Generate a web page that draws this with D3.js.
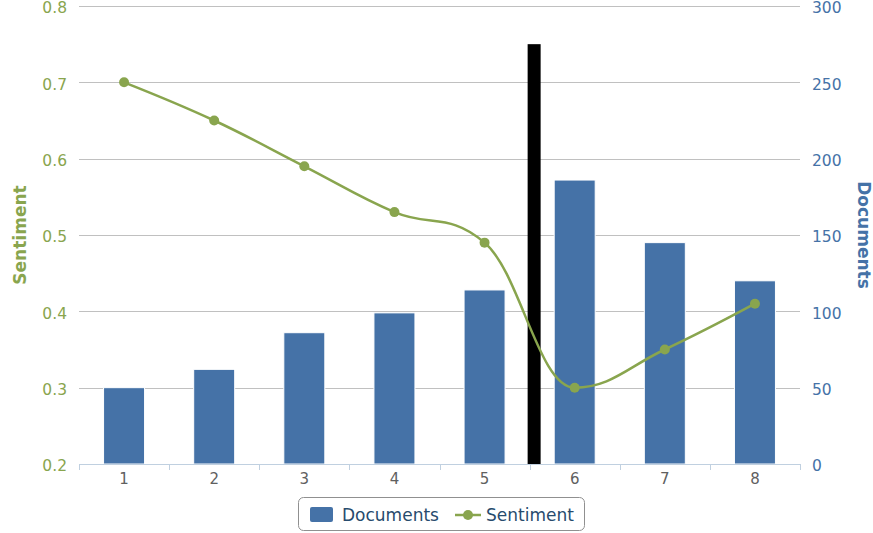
<!DOCTYPE html>
<html><head><meta charset="utf-8">
<script src="https://cdn.jsdelivr.net/npm/d3@7"></script>
<style>
html,body{margin:0;padding:0;background:#fff;}
svg{display:block;font-family:"DejaVu Sans",Verdana,sans-serif;}
</style></head>
<body>
<svg id="chart" width="873" height="533"></svg>
<script>
const categories = ["1","2","3","4","5","6","7","8"];
const documents = [50, 62, 86, 99, 114, 186, 145, 120];
const sentiment = [0.70, 0.65, 0.59, 0.53, 0.49, 0.30, 0.35, 0.41];
const sentimentTicks = [0.2,0.3,0.4,0.5,0.6,0.7,0.8];
const documentTicks = [0,50,100,150,200,250,300];
const eventPosition = 5.55;   // in category units (between 5 and 6)
const eventTop = 275;          // on documents axis

const svg = d3.select("#chart");
const L = 79, R = 800, T = 6, B = 464;
const x = d3.scaleBand().domain(categories).range([L, R]).paddingInner(0).paddingOuter(0);
const xc = d3.scaleLinear().domain([0.5, categories.length + 0.5]).range([L, R]);
const yS = d3.scaleLinear().domain([0.2, 0.8]).range([B, T]);
const yD = d3.scaleLinear().domain([0, 300]).range([B, T]);
const green = "#89A54E", blue = "#4572A7";

// grid
svg.append("g").selectAll("line").data(sentimentTicks.slice(1)).join("line")
  .attr("x1", L).attr("x2", R).attr("y1", d => Math.round(yS(d)) + 0.5).attr("y2", d => Math.round(yS(d)) + 0.5)
  .attr("stroke", "#C0C0C0").attr("stroke-width", 1);

// left axis labels
const left = d3.axisLeft(yS).tickValues(sentimentTicks).tickSize(0).tickPadding(12).tickFormat(d3.format(".1f"));
const gl = svg.append("g").attr("transform", `translate(${L},0)`).call(left);
gl.select(".domain").remove();
gl.selectAll("text").attr("fill", green).attr("font-size", 15.5).attr("font-family", "DejaVu Sans").attr("dy", "0.45em");

// right axis labels
const right = d3.axisRight(yD).tickValues(documentTicks).tickSize(0).tickPadding(12);
const gr = svg.append("g").attr("transform", `translate(${R},0)`).call(right);
gr.select(".domain").remove();
gr.selectAll("text").attr("fill", blue).attr("font-size", 15.5).attr("font-family", "DejaVu Sans").attr("dy", "0.45em");

// bars
const bw = 41;
svg.append("g").selectAll("rect").data(documents).join("rect")
  .attr("x", (d, i) => x(categories[i]) + x.bandwidth() / 2 - bw / 2)
  .attr("y", d => yD(d))
  .attr("width", bw)
  .attr("height", d => B - yD(d))
  .attr("fill", blue).attr("stroke", "#fff").attr("stroke-width", 1);

// event marker bar
svg.append("rect")
  .attr("x", xc(eventPosition) - 6.5).attr("y", yD(eventTop))
  .attr("width", 13).attr("height", B - yD(eventTop))
  .attr("fill", "#000");

// x axis
const bottom = d3.axisBottom(x).tickSize(0).tickPadding(9);
const gb = svg.append("g").attr("transform", `translate(0,${B})`).call(bottom);
gb.select(".domain").remove();
gb.selectAll("text").attr("fill", "#606060").attr("font-size", 15).attr("font-family", "DejaVu Sans");
svg.append("line").attr("x1", L).attr("x2", R).attr("y1", B + 0.5).attr("y2", B + 0.5)
  .attr("stroke", "#C0D0E0").attr("stroke-width", 1);
svg.append("g").selectAll("line").data(d3.range(categories.length + 1)).join("line")
  .attr("x1", d => Math.round(L + d * x.bandwidth()) + 0.5).attr("x2", d => Math.round(L + d * x.bandwidth()) + 0.5)
  .attr("y1", B).attr("y2", B + 6).attr("stroke", "#C0D0E0");

// spline (Highcharts-style)
const pts = sentiment.map((v, i) => ({ x: x(categories[i]) + x.bandwidth() / 2, y: yS(v) }));
const sm = 1.5, den = sm + 1;
pts.forEach((p, i) => {
  const a = pts[i - 1], b = pts[i + 1];
  if (a && b) {
    let lx = (sm * p.x + a.x) / den, ly = (sm * p.y + a.y) / den;
    let rx = (sm * p.x + b.x) / den, ry = (sm * p.y + b.y) / den;
    const corr = ((ry - ly) * (rx - p.x)) / (rx - lx) + p.y - ry;
    ly += corr; ry += corr;
    if (ly > a.y && ly > p.y) { ly = Math.max(a.y, p.y); ry = 2 * p.y - ly; }
    else if (ly < a.y && ly < p.y) { ly = Math.min(a.y, p.y); ry = 2 * p.y - ly; }
    if (ry > b.y && ry > p.y) { ry = Math.max(b.y, p.y); ly = 2 * p.y - ry; }
    else if (ry < b.y && ry < p.y) { ry = Math.min(b.y, p.y); ly = 2 * p.y - ry; }
    p.lx = lx; p.ly = ly; p.rx = rx; p.ry = ry;
  }
});
const path = d3.path();
pts.forEach((p, i) => {
  if (i === 0) { path.moveTo(p.x, p.y); return; }
  const a = pts[i - 1];
  path.bezierCurveTo(a.rx ?? a.x, a.ry ?? a.y, p.lx ?? p.x, p.ly ?? p.y, p.x, p.y);
});
svg.append("path").attr("d", path.toString()).attr("fill", "none")
  .attr("stroke", green).attr("stroke-width", 2.5);
svg.append("g").selectAll("circle").data(pts).join("circle")
  .attr("cx", d => d.x).attr("cy", d => d.y).attr("r", 5).attr("fill", green);

// axis titles
svg.append("text").attr("transform", `translate(26,${(T + B) / 2}) rotate(-90)`)
  .attr("text-anchor", "middle").attr("fill", green).attr("font-weight", "bold").attr("font-size", 17)
  .text("Sentiment");
svg.append("text").attr("transform", `translate(858,${(T + B) / 2}) rotate(90)`)
  .attr("text-anchor", "middle").attr("fill", blue).attr("font-weight", "bold").attr("font-size", 17)
  .text("Documents");

// legend
const lg = svg.append("g");
lg.append("rect").attr("x", 298.5).attr("y", 497.5).attr("width", 286).attr("height", 33).attr("rx", 5)
  .attr("fill", "#fff").attr("stroke", "#909090");
lg.append("rect").attr("x", 310).attr("y", 507).attr("width", 23).attr("height", 15).attr("rx", 2).attr("fill", blue);
lg.append("text").attr("x", 342).attr("y", 521).attr("fill", "#274b6d").attr("font-size", 17).text("Documents");
lg.append("line").attr("x1", 455).attr("x2", 481).attr("y1", 515).attr("y2", 515).attr("stroke", green).attr("stroke-width", 2.5);
lg.append("circle").attr("cx", 468).attr("cy", 515).attr("r", 5).attr("fill", green);
lg.append("text").attr("x", 486).attr("y", 521).attr("fill", "#274b6d").attr("font-size", 17).text("Sentiment");
</script>
</body></html>
